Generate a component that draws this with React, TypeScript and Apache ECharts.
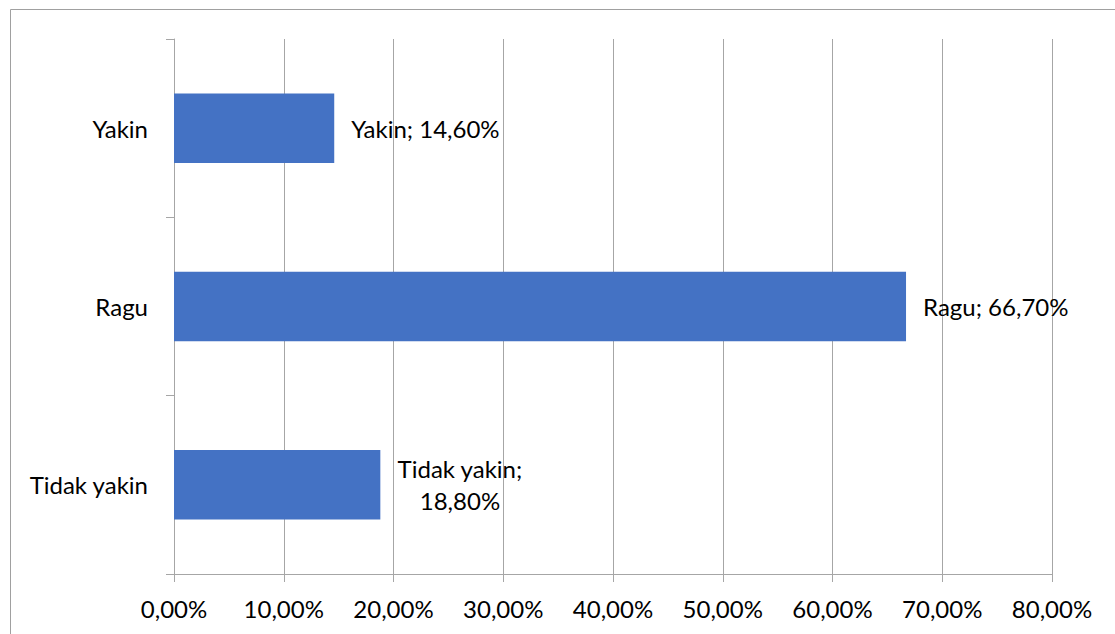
import React, { useEffect, useRef } from "react";
import * as echarts from "echarts";

const categories = ["Tidak yakin", "Ragu", "Yakin"];
const values = [18.8, 66.7, 14.6];
const dataLabels = ["Tidak yakin;\n18,80%", "Ragu; 66,70%", "Yakin; 14,60%"];
const xMin = 0;
const xMax = 80;
const xInterval = 10;

const FONT = "Lato";
const FS = 24;
const GRAY = "#a6a6a6";

export default function App() {
  const ref = useRef<HTMLDivElement>(null);
  useEffect(() => {
    if (!ref.current) return;
    const chart = echarts.init(ref.current, undefined, { renderer: "svg" });
    chart.setOption({
      animation: false,
      backgroundColor: "#ffffff",
      textStyle: { fontFamily: FONT },
      grid: { left: 174, right: 63, top: 39, bottom: 60, containLabel: false },
      graphic: [
        {
          type: "rect",
          shape: { x: 10.5, y: 9.5, width: 1200, height: 700 },
          style: { fill: "none", stroke: "#a0a0a0", lineWidth: 1 },
          silent: true,
          z: -1,
        },
      ],
      xAxis: {
        type: "value",
        min: xMin,
        max: xMax,
        interval: xInterval,
        axisLine: { show: true, lineStyle: { color: GRAY, width: 1 } },
        axisTick: { show: true, length: 8, lineStyle: { color: GRAY } },
        splitLine: { show: true, lineStyle: { color: GRAY, width: 1 } },
        axisLabel: {
          color: "#000000",
          fontFamily: FONT,
          fontSize: FS,
          margin: 22,
          formatter: (v: number) => v.toFixed(2).replace(".", ",") + "%",
        },
      },
      yAxis: {
        type: "category",
        data: categories,
        axisLine: { show: true, lineStyle: { color: GRAY, width: 1 } },
        axisTick: { show: true, length: 8, lineStyle: { color: GRAY } },
        axisLabel: { color: "#000000", fontFamily: FONT, fontSize: FS, margin: 26 },
      },
      series: [
        {
          type: "bar",
          data: values.map((v, i) => ({
            value: v,
            label: {
              formatter: dataLabels[i]
                .split("\n")
                .map((s) => "{c|" + s + "}")
                .join("\n"),
            },
          })),
          barWidth: "39%",
          itemStyle: { color: "#4472C4" },
          label: {
            show: true,
            position: "right",
            distance: 17,
            color: "#000000",
            fontFamily: FONT,
            fontSize: FS,
            rich: { c: { align: "center", fontFamily: FONT, fontSize: FS, color: "#000000", lineHeight: 32 } },
          },
        },
      ],
    });
    return () => chart.dispose();
  }, []);
  return (
    <div
      ref={ref}
      style={{ position: "fixed", left: 0, top: 0, width: 1115, height: 634, background: "#fff" }}
    />
  );
}
